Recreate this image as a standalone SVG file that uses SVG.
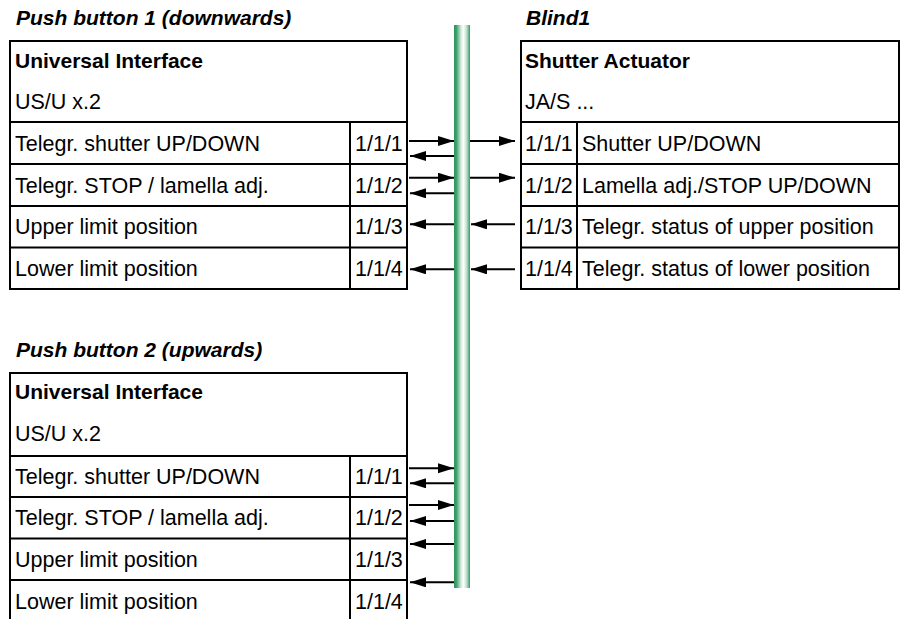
<svg xmlns="http://www.w3.org/2000/svg" width="903" height="619" viewBox="0 0 903 619">
<style>
text{font-family:"Liberation Sans",Arial,sans-serif;font-size:21.5px;fill:#000}
.t{font-weight:bold;font-style:italic;font-size:21px}
.b{font-weight:bold;font-size:21px}
.box{fill:#fff;stroke:#000;stroke-width:2}
.ln{stroke:#000;stroke-width:2;fill:none}
.ar{stroke:#000;stroke-width:2;fill:none;marker-end:url(#ah)}
</style>
<defs>
<marker id="ah" markerUnits="userSpaceOnUse" markerWidth="17" markerHeight="11" refX="16" refY="5" orient="auto" viewBox="0 0 17 11">
<path d="M0,0 L16,5 L0,10 z" fill="#000"/>
</marker>
<linearGradient id="bus" x1="0" y1="0" x2="1" y2="0">
<stop offset="0" stop-color="#2a935c"/>
<stop offset="0.15" stop-color="#3d9f6c"/>
<stop offset="0.45" stop-color="#d9ede2"/>
<stop offset="0.6" stop-color="#ffffff"/>
<stop offset="0.8" stop-color="#b9dcc8"/>
<stop offset="1" stop-color="#35986a"/>
</linearGradient>
</defs>

<g id="title1"><text class="t" x="16" y="25">Push button 1 (downwards)</text></g>
<g id="title2"><text class="t" x="526" y="25">Blind1</text></g>
<g id="title3"><text class="t" x="16" y="357">Push button 2 (upwards)</text></g>

<g id="pb1">
<rect class="box" x="10" y="41" width="397" height="248"/>
<path class="ln" d="M10,122H407M10,164H407M10,206H407M10,247.5H407M350,122V289"/>
<text class="b" x="15" y="68">Universal Interface</text>
<text x="15" y="109">US/U x.2</text>
<text x="15" y="151">Telegr. shutter UP/DOWN</text>
<text x="15" y="192.5">Telegr. STOP / lamella adj.</text>
<text x="15" y="234">Upper limit position</text>
<text x="15" y="276">Lower limit position</text>
<text x="355" y="151">1/1/1</text>
<text x="355" y="192.5">1/1/2</text>
<text x="355" y="234">1/1/3</text>
<text x="355" y="276">1/1/4</text>
</g>

<g id="blind1">
<rect class="box" x="521" y="41" width="378" height="248"/>
<path class="ln" d="M521,122H899M521,164H899M521,206H899M521,247.5H899M577,122V289"/>
<text class="b" x="525" y="68">Shutter Actuator</text>
<text x="525" y="109">JA/S ...</text>
<text x="525" y="151">1/1/1</text>
<text x="525" y="192.5">1/1/2</text>
<text x="525" y="234">1/1/3</text>
<text x="525" y="276">1/1/4</text>
<text x="582" y="151">Shutter UP/DOWN</text>
<text x="582" y="192.5">Lamella adj./STOP UP/DOWN</text>
<text x="582" y="234">Telegr. status of upper position</text>
<text x="582" y="276">Telegr. status of lower position</text>
</g>

<g id="pb2">
<rect class="box" x="10" y="373" width="397" height="252"/>
<path class="ln" d="M10,456H407M10,497H407M10,538.5H407M10,580H407M350,456V625"/>
<text class="b" x="15" y="399">Universal Interface</text>
<text x="15" y="441">US/U x.2</text>
<text x="15" y="483.5">Telegr. shutter UP/DOWN</text>
<text x="15" y="525">Telegr. STOP / lamella adj.</text>
<text x="15" y="567">Upper limit position</text>
<text x="15" y="608.5">Lower limit position</text>
<text x="355" y="483.5">1/1/1</text>
<text x="355" y="525">1/1/2</text>
<text x="355" y="567">1/1/3</text>
<text x="355" y="608.5">1/1/4</text>
</g>

<g id="connectors">
<line class="ar" x1="409" y1="141" x2="454" y2="141"/>
<line class="ar" x1="454" y1="156" x2="410" y2="156"/>
<line class="ar" x1="409" y1="177.7" x2="454" y2="177.7"/>
<line class="ar" x1="454" y1="193.3" x2="410" y2="193.3"/>
<line class="ar" x1="454" y1="224.3" x2="410" y2="224.3"/>
<line class="ar" x1="454" y1="269.3" x2="410" y2="269.3"/>
<line class="ar" x1="470" y1="141" x2="515" y2="141"/>
<line class="ar" x1="470" y1="177.7" x2="515" y2="177.7"/>
<line class="ar" x1="515" y1="224.3" x2="471" y2="224.3"/>
<line class="ar" x1="515" y1="269.3" x2="471" y2="269.3"/>
<line class="ar" x1="409" y1="468.3" x2="454" y2="468.3"/>
<line class="ar" x1="454" y1="483.3" x2="410" y2="483.3"/>
<line class="ar" x1="409" y1="505" x2="454" y2="505"/>
<line class="ar" x1="454" y1="521" x2="410" y2="521"/>
<line class="ar" x1="454" y1="544" x2="410" y2="544"/>
<line class="ar" x1="454" y1="582.3" x2="410" y2="582.3"/>
</g>

<g id="bus-line">
<rect x="454" y="25" width="16" height="563" fill="url(#bus)"/>
</g>
</svg>
